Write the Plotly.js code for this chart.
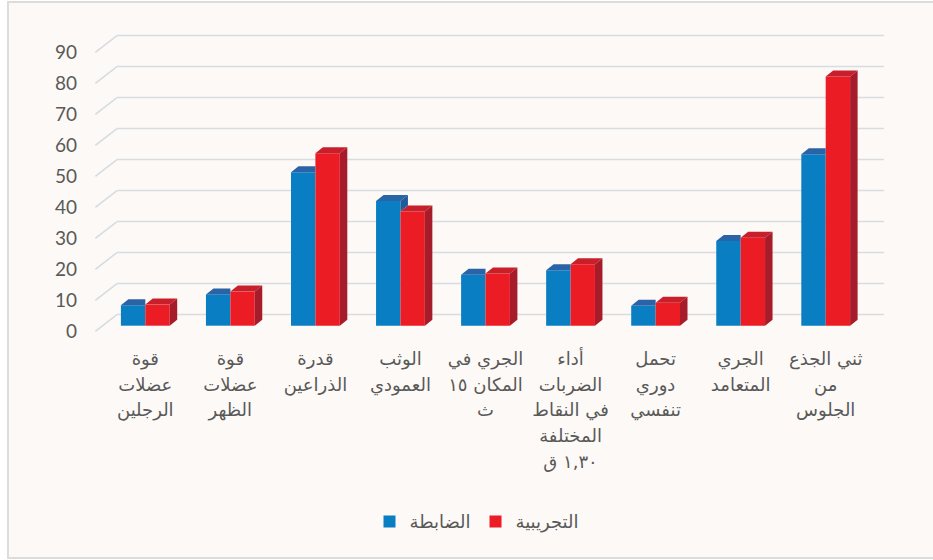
<!DOCTYPE html>
<html>
<head>
<meta charset="utf-8">
<script src="https://cdn.plot.ly/plotly-3.0.1.min.js"></script>
<style>
  html, body { margin: 0; padding: 0; background: #ffffff; width: 933px; height: 560px; overflow: hidden; }
  #bg { position: absolute; left: 7px; top: 1px; width: 940px; height: 554px;
        background: #FDF9F6; border: 2px solid #DCDCDC; }
  #chart { position: absolute; left: 0; top: 0; width: 933px; height: 560px; }
</style>
</head>
<body>
<div id="bg"></div>
<div id="chart"></div>
<script>
// ---------------- data ----------------
const categories = [
  "قوة<br>عضلات<br>الرجلين",
  "قوة<br>عضلات<br>الظهر",
  "قدرة<br>الذراعين",
  "الوثب<br>العمودي",
  "الجري في<br>المكان ١٥<br>ث",
  "أداء<br>الضربات<br>في النقاط<br>المختلفة<br>١,٣٠ ق",
  "تحمل<br>دوري<br>تنفسي",
  "الجري<br>المتعامد",
  "ثني الجذع<br>من<br>الجلوس"
];
const seriesNames = ["الضابطة", "التجريبية"];
const controlValues = [6.6, 10.1, 49.5, 40.2, 16.4, 17.9, 6.4, 27.3, 55.3];
const experimentalValues = [6.8, 11.0, 55.6, 36.8, 16.8, 19.8, 7.4, 28.4, 80.4];
const yTickValues = [0, 10, 20, 30, 40, 50, 60, 70, 80, 90];

// ---------------- geometry (pixels -> data units) ----------------
const W = 933, H = 560;
const plotL = 95, plotR = 884, plotT = 20, plotB = 340;
const cat0Px = 145.3, catPx = 85.05;
const basePx = 325.7, unitPx = 3.1;
const xRange = [(plotL - cat0Px) / catPx, (plotR - cat0Px) / catPx];
const yRange = [-(plotB - basePx) / unitPx, (basePx - plotT) / unitPx];

const barW = 24.4 / catPx;
const depthX = 7.5 / catPx;
const depthY = 6.0 / unitPx;
const backX = (117 - cat0Px) / catPx;
const backOff = 3.6;
const frontOff = -1.8;

const catFontSize = 18, catLinePx = 25.7;

const colors = {
  blueFront: "#0A7EC3", blueTop: "#2A63A6", blueSide: "#1F5C9A",
  redFront: "#EC1C24", redTop: "#C81F2A", redSide: "#A61C2A",
  grid: "#D8DDE2", text: "#595959"
};

const traces = [];
const shapes = [];

// gridlines on back wall + slanted side-wall lines (drawn below the bars)
yTickValues.forEach(t => {
  shapes.push({ type: "line", layer: "below", xref: "x", yref: "y",
    x0: xRange[0] + 0.005, y0: t + frontOff, x1: backX, y1: t + backOff,
    line: { color: colors.grid, width: 1.6 } });
  shapes.push({ type: "line", layer: "below", xref: "x", yref: "y",
    x0: backX, y0: t + backOff, x1: xRange[1], y1: t + backOff,
    line: { color: colors.grid, width: 1.6 } });
});

// front faces as bars
const xs = categories.map((_, i) => i);
traces.push({ type: "bar", name: seriesNames[0], x: xs, y: controlValues,
  marker: { color: colors.blueFront, line: { width: 0 } }, hoverinfo: "skip" });
traces.push({ type: "bar", name: seriesNames[1], x: xs, y: experimentalValues,
  marker: { color: colors.redFront, line: { width: 0 } }, hoverinfo: "skip" });

function poly(px, py, color) {
  traces.push({ type: "scatter", mode: "lines", x: px.concat([px[0]]), y: py.concat([py[0]]),
    fill: "toself", fillcolor: color, line: { width: 0, color: color },
    hoverinfo: "skip", showlegend: false });
}

xs.forEach(i => {
  const vb = controlValues[i], vr = experimentalValues[i];
  const b0 = i - barW, b1 = i, r0 = i, r1 = i + barW;
  if (vb >= vr) {
    poly([b0, b1, b1 + depthX, b0 + depthX], [vb, vb, vb + depthY, vb + depthY], colors.blueTop);
    poly([b1, b1, b1 + depthX, b1 + depthX], [vr, vb, vb + depthY, vr + depthY], colors.blueSide);
  } else {
    poly([b0, b1, b1, b0 + depthX], [vb, vb, vb + depthY, vb + depthY], colors.blueTop);
  }
  poly([r0, r1, r1 + depthX, r0 + depthX], [vr, vr, vr + depthY, vr + depthY], colors.redTop);
  poly([r1, r1, r1 + depthX, r1 + depthX], [0, vr, vr + depthY, depthY], colors.redSide);
});

// invisible trace carrying the front tick labels
traces.push({ type: "scatter", mode: "markers", x: [0], y: [0], yaxis: "y2",
  marker: { opacity: 0 }, hoverinfo: "skip", showlegend: false });

const layout = {
  width: W, height: H,
  margin: { l: plotL, r: W - plotR, t: plotT, b: H - plotB },
  paper_bgcolor: "rgba(0,0,0,0)", plot_bgcolor: "rgba(0,0,0,0)",
  barmode: "group", bargap: 1 - 2 * barW, bargroupgap: 0,
  font: { family: "DejaVu Sans, sans-serif", color: colors.text },
  shapes: shapes,
  xaxis: {
    range: xRange, tickvals: xs, ticktext: categories,
    showgrid: false, zeroline: false, showline: false, ticks: "",
    tickfont: { family: "DejaVu Sans, sans-serif", size: catFontSize, color: colors.text },
    ticklabelstandoff: 6, tickangle: 0
  },
  yaxis: {
    range: yRange, showgrid: false, zeroline: false, showline: false,
    showticklabels: false, ticks: ""
  },
  yaxis2: {
    overlaying: "y", side: "left",
    range: [yRange[0] - frontOff, yRange[1] - frontOff],
    tickvals: yTickValues, showgrid: false, zeroline: false, showline: false, ticks: "",
    tickfont: { family: "Lato, 'Liberation Sans', sans-serif", size: 19, color: colors.text },
    ticklabelstandoff: 17
  },
  legend: {
    orientation: "h", x: (477 - plotL) / (plotR - plotL), xanchor: "center",
    y: (plotB - 521.7) / (plotB - plotT), yanchor: "middle",
    font: { family: "DejaVu Sans, sans-serif", size: 18, color: colors.text },
    bgcolor: "rgba(0,0,0,0)", itemclick: false, itemdoubleclick: false,
    itemwidth: 30, tracegroupgap: 0
  },
  showlegend: true
};

Plotly.newPlot("chart", traces, layout, { staticPlot: true, displayModeBar: false }).then(gd => {
  const ratio = (catLinePx / catFontSize) / 1.3;
  gd.querySelectorAll(".xtick text tspan.line").forEach(ts => {
    const dy = ts.getAttribute("dy");
    if (dy && dy.endsWith("em")) {
      const v = parseFloat(dy);
      if (v) ts.setAttribute("dy", (v * ratio).toFixed(3) + "em");
    }
  });
});
</script>
</body>
</html>
